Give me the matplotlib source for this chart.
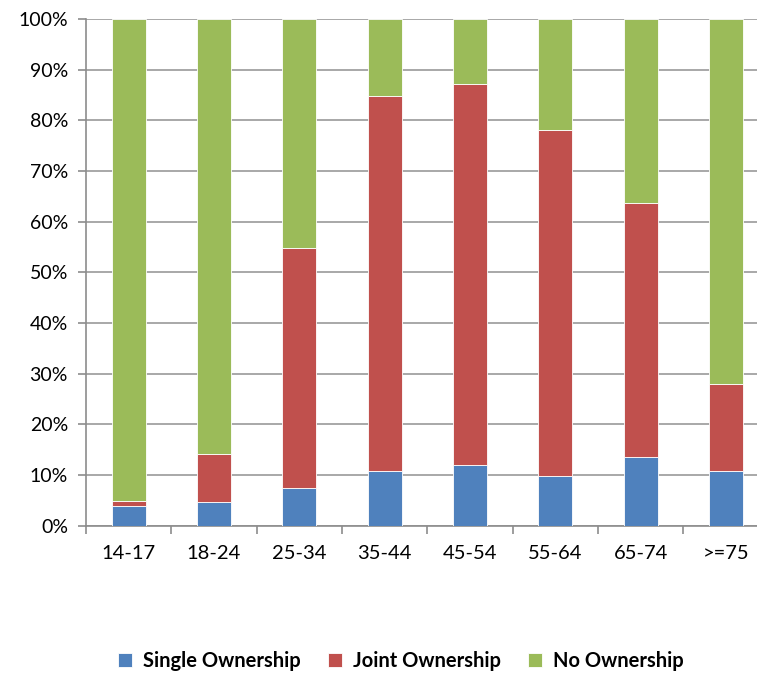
import matplotlib
matplotlib.use("Agg")
import matplotlib.pyplot as plt
import numpy as np

categories = ["14-17", "18-24", "25-34", "35-44", "45-54", "55-64", "65-74", ">=75"]
single = [3.8, 4.7, 7.5, 10.8, 11.9, 9.9, 13.5, 10.8]
joint = [1.0, 9.4, 47.3, 74.0, 75.2, 68.2, 50.2, 17.2]
no_own = [100 - s - j for s, j in zip(single, joint)]
series_names = ["Single Ownership", "Joint Ownership", "No Ownership"]
colors = ["#4F81BD", "#C0504D", "#9BBB59"]

plt.rcParams["font.family"] = ["Lato", "DejaVu Sans"]

fig = plt.figure(figsize=(7.57, 6.75), dpi=100)
ax = fig.add_axes([86 / 757, 1 - 525.7 / 675, 682.6 / 757, 506.7 / 675])

x = np.arange(len(categories))
width = 0.40
bottom = np.zeros(len(categories))
handles = []
for vals, name, c in zip([single, joint, no_own], series_names, colors):
    b = ax.bar(x, vals, width, bottom=bottom, color=c, label=name,
               edgecolor="white", linewidth=0.6, zorder=3)
    handles.append(b)
    bottom += np.array(vals)

ax.set_xlim(-0.5, len(categories) - 0.5)
ax.set_ylim(0, 100)
ax.set_yticks(np.arange(0, 101, 10))
ax.set_yticklabels([f"{v}%" for v in range(0, 101, 10)], fontsize=14)
ax.set_xticks(x)
ax.set_xticklabels(categories, fontsize=14.5)
ax.set_xticks(np.arange(-0.5, len(categories), 1), minor=True)

ax.grid(axis="y", color="#9a9a9a", linewidth=1.2, zorder=0)
for side in ["top", "right"]:
    ax.spines[side].set_visible(False)
ax.spines["left"].set_color("#8c8c8c")
ax.spines["bottom"].set_color("#8c8c8c")
ax.spines["left"].set_linewidth(1.2)
ax.spines["bottom"].set_linewidth(1.2)
ax.tick_params(axis="y", length=6, width=1.2, color="#8c8c8c", pad=7)
ax.tick_params(axis="x", which="major", length=0, pad=14)
ax.tick_params(axis="x", which="minor", length=6, width=1.2, color="#8c8c8c")

fig.legend(handles=handles, labels=series_names, loc="center",
           bbox_to_anchor=(401 / 757, 1 - 661 / 675), ncol=3, frameon=False,
           prop={"weight": "bold", "size": 14.5}, handlelength=0.7,
           handleheight=0.7, handletextpad=0.55, columnspacing=1.35)

fig.savefig("out.png", dpi=100)
